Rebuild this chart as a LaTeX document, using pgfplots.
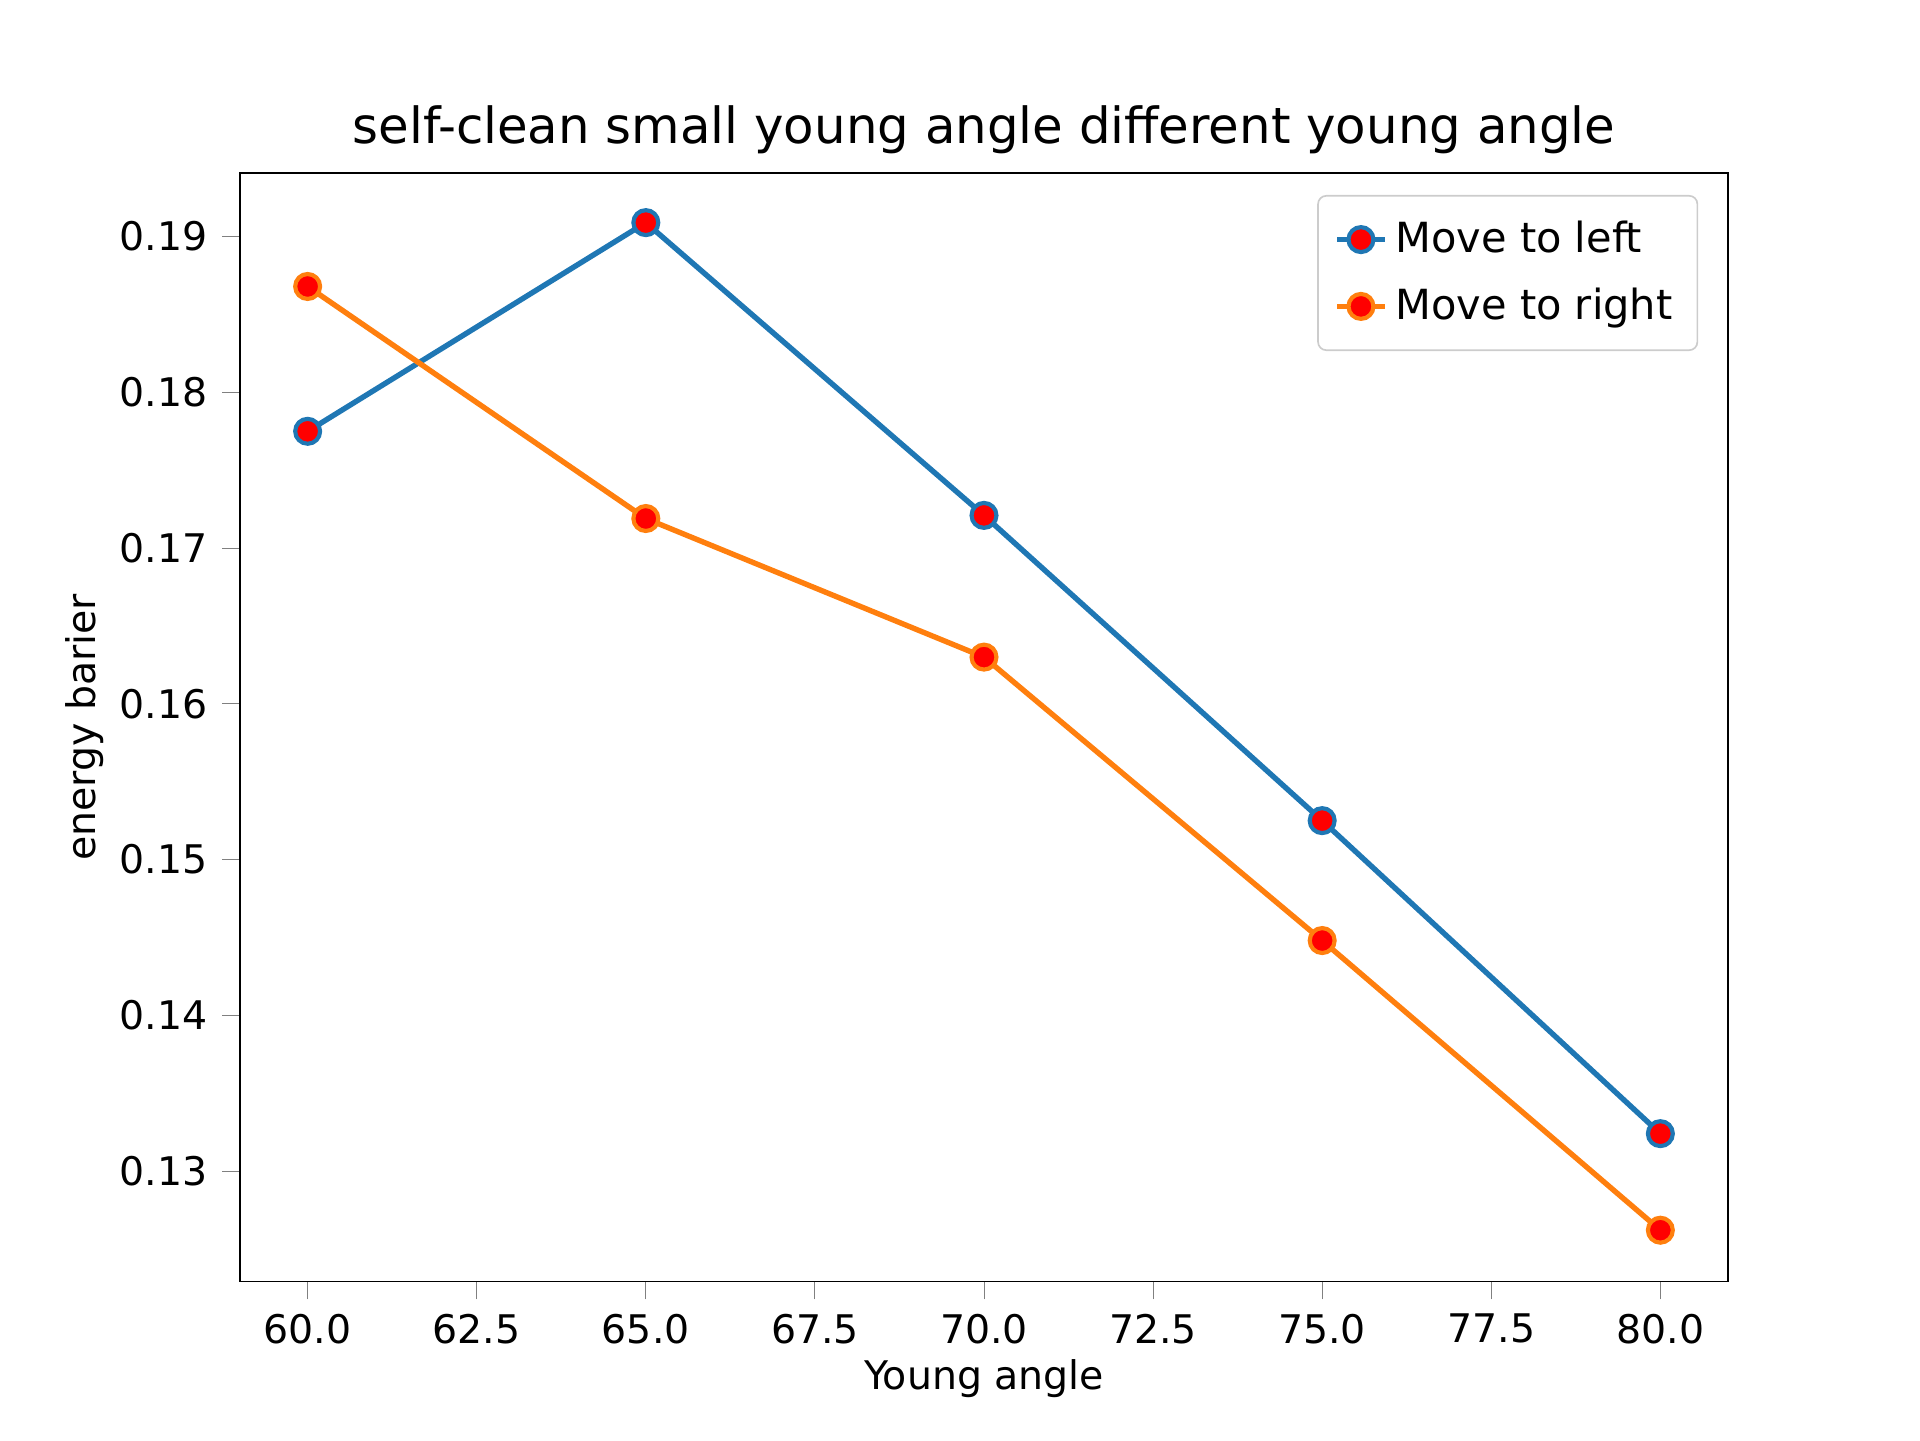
\documentclass[border=0pt]{standalone}
\usepackage{pgfplots}
\pgfplotsset{compat=1.18}
\usepackage{fontspec}
\setmainfont{DejaVu Sans}
\definecolor{mblue}{HTML}{1F77B4}
\definecolor{morange}{HTML}{FF7F0E}
\begin{document}
\begin{tikzpicture}
\useasboundingbox (0,0) rectangle (6.4in,4.8in);
\begin{axis}[at={(0.8in,0.528in)},anchor=south west,scale only axis,
width=4.96in,height=3.696in,
xmin=59,xmax=81,ymin=0.1229,ymax=0.1941,
xtick={60,62.5,...,80},ytick={0.13,0.14,...,0.19},
/pgf/number format/assume math mode=true,
xticklabel style={/pgf/number format/.cd,fixed,fixed zerofill,precision=1},
yticklabel style={/pgf/number format/.cd,fixed,fixed zerofill,precision=2},
tick label style={font=\fontsize{9.5}{11}\selectfont},
tick align=outside,tick pos=left,
title={self-clean small young angle different young angle},
title style={font=\fontsize{12}{14}\selectfont,yshift=-5pt},
xlabel={Young angle},ylabel={energy barier},
xlabel style={yshift=3pt},ylabel style={yshift=-3pt},
label style={font=\fontsize{9.5}{11}\selectfont},
legend style={at={(0.98,0.98)},anchor=north east,font=\fontsize{10}{12}\selectfont,draw=black!20,rounded corners=2pt,row sep=3pt,inner sep=4pt},
legend image code/.code={\draw[#1] (0cm,0cm) -- (0.4cm,0cm); \draw[#1,mark repeat=2,mark phase=2] plot coordinates {(0cm,0cm)(0.2cm,0cm)(0.4cm,0cm)};},
legend cell align=left,
]
\addplot[mblue,line width=1.3pt,mark=*,mark size=3pt,mark options={fill=red,draw=mblue,line width=1pt}] coordinates {(60,0.1775)(65,0.1909)(70,0.1721)(75,0.1525)(80,0.1324)};
\addlegendentry{Move to left}
\addplot[morange,line width=1.3pt,mark=*,mark size=3pt,mark options={fill=red,draw=morange,line width=1pt}] coordinates {(60,0.1868)(65,0.1719)(70,0.1630)(75,0.1448)(80,0.1262)};
\addlegendentry{Move to right}
\end{axis}
\end{tikzpicture}
\end{document}
